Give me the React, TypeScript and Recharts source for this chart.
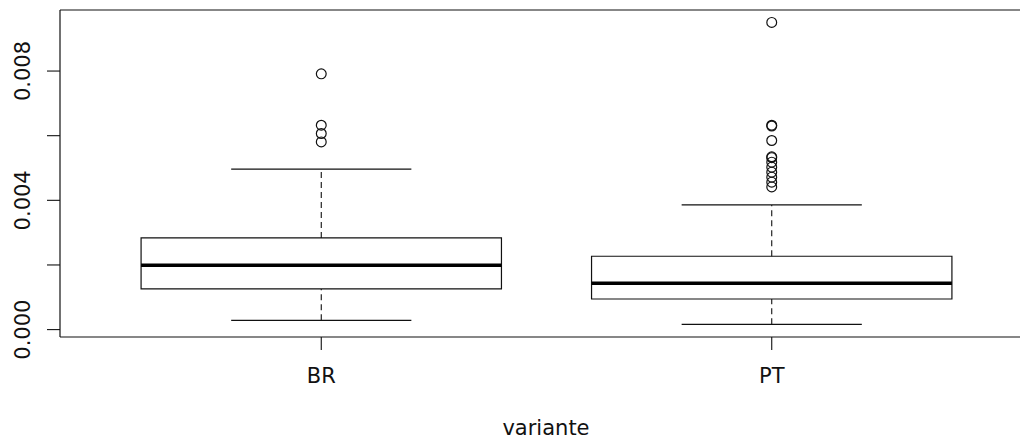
import React from 'react';
import {
  ComposedChart,
  XAxis,
  YAxis,
  Scatter,
  ReferenceArea,
  ReferenceLine,
  Label,
} from 'recharts';

const categories = ['BR', 'PT'];
const positions = [1, 2];
const lowerWhisker = [0.000288, 0.000164];
const q1 = [0.001257, 0.000947];
const median = [0.001991, 0.001433];
const q3 = [0.002836, 0.002269];
const upperWhisker = [0.004963, 0.003858];
const outliersBR = [0.007913, 0.006325, 0.006068, 0.005808];
const outliersPT = [
  0.009505, 0.006325, 0.0063, 0.005851, 0.005346, 0.00532, 0.005181, 0.005027,
  0.004872, 0.004717, 0.004562, 0.004416,
];
const yTicks = [0, 0.002, 0.004, 0.006, 0.008];
const yTickLabels = ['0.000', '', '0.004', '', '0.008'];
const xDomain = [0.42, 2.58];
const yDomain = [-0.000229, 0.009889];

const outlierData = [
  ...outliersBR.map((v) => ({ x: positions[0], y: v })),
  ...outliersPT.map((v) => ({ x: positions[1], y: v })),
];

const FONT = 'DejaVu Sans, sans-serif';
const FS = 21;

const YTick = (props: any) => {
  const { y, index } = props;
  const label = yTickLabels[index];
  if (!label) return null;
  const tx = 30.5;
  return (
    <text
      x={tx}
      y={y}
      transform={`rotate(-90, ${tx}, ${y})`}
      textAnchor="middle"
      fontFamily={FONT}
      fontSize={FS}
      fill="#111"
    >
      {label}
    </text>
  );
};

const XTick = (props: any) => {
  const { x, y, payload } = props;
  const idx = positions.indexOf(payload.value);
  return (
    <text
      x={x}
      y={y + 33}
      textAnchor="middle"
      fontFamily={FONT}
      fontSize={FS}
      fill="#111"
    >
      {idx >= 0 ? categories[idx] : ''}
    </text>
  );
};

const OutlierShape = (props: any) => {
  const { cx, cy } = props;
  return <circle cx={cx} cy={cy} r={4.9} fill="none" stroke="#111" strokeWidth={1.2} />;
};

const renderXLabel = (props: any) => {
  return (
    <text
      x={546}
      y={435}
      textAnchor="middle"
      fontFamily={FONT}
      fontSize={FS}
      fill="#111"
    >
      variante
    </text>
  );
};

export default function App() {
  const frame = '#111';
  const axisLineStyle = { stroke: frame, strokeWidth: 1.2 };
  return (
    <div
      style={{
        position: 'absolute',
        left: 0,
        top: 0,
        width: 1020,
        height: 439,
        overflow: 'hidden',
        background: '#fff',
      }}
    >
      <ComposedChart
        width={1020}
        height={439}
        margin={{ top: 9, right: -13, bottom: 0, left: 0 }}
        style={{ outline: 'none', overflow: 'hidden' }}
      >
        <XAxis
          xAxisId={0}
          type="number"
          dataKey="x"
          domain={xDomain}
          ticks={positions}
          allowDataOverflow
          height={102}
          tickSize={13}
          tickMargin={0}
          axisLine={axisLineStyle}
          tickLine={{ stroke: frame, strokeWidth: 1.1 }}
          tick={<XTick />}
          label={<Label content={renderXLabel} />}
        />
        <XAxis
          xAxisId="top"
          orientation="top"
          type="number"
          dataKey="x"
          domain={xDomain}
          allowDataOverflow
          height={1}
          ticks={positions}
          tick={false}
          tickLine={false}
          axisLine={axisLineStyle}
        />
        <YAxis
          type="number"
          dataKey="y"
          domain={yDomain}
          ticks={yTicks}
          allowDataOverflow
          width={60}
          tickSize={13}
          axisLine={axisLineStyle}
          tickLine={{ stroke: frame, strokeWidth: 1.1 }}
          tick={<YTick />}
        />
        {positions.map((p, i) => (
          <ReferenceLine
            key={`wu${i}`}
            segment={[
              { x: p, y: q3[i] },
              { x: p, y: upperWhisker[i] },
            ]}
            stroke={frame}
            strokeWidth={1.1}
            strokeDasharray="6 4"
          />
        ))}
        {positions.map((p, i) => (
          <ReferenceLine
            key={`wl${i}`}
            segment={[
              { x: p, y: lowerWhisker[i] },
              { x: p, y: q1[i] },
            ]}
            stroke={frame}
            strokeWidth={1.1}
            strokeDasharray="6 4"
          />
        ))}
        {positions.map((p, i) => (
          <ReferenceLine
            key={`cu${i}`}
            segment={[
              { x: p - 0.2, y: upperWhisker[i] },
              { x: p + 0.2, y: upperWhisker[i] },
            ]}
            stroke={frame}
            strokeWidth={1.2}
          />
        ))}
        {positions.map((p, i) => (
          <ReferenceLine
            key={`cl${i}`}
            segment={[
              { x: p - 0.2, y: lowerWhisker[i] },
              { x: p + 0.2, y: lowerWhisker[i] },
            ]}
            stroke={frame}
            strokeWidth={1.2}
          />
        ))}
        {positions.map((p, i) => (
          <ReferenceArea
            key={`box${i}`}
            x1={p - 0.4}
            x2={p + 0.4}
            y1={q1[i]}
            y2={q3[i]}
            fill="#fff"
            fillOpacity={1}
            stroke={frame}
            strokeWidth={1.2}
          />
        ))}
        {positions.map((p, i) => (
          <ReferenceLine
            key={`med${i}`}
            segment={[
              { x: p - 0.4, y: median[i] },
              { x: p + 0.4, y: median[i] },
            ]}
            stroke="#000"
            strokeWidth={3.6}
          />
        ))}
        <Scatter
          data={outlierData}
          dataKey="y"
          shape={<OutlierShape />}
          isAnimationActive={false}
        />
      </ComposedChart>
    </div>
  );
}
